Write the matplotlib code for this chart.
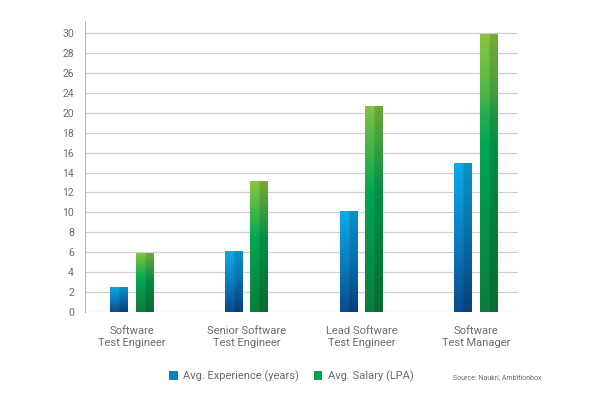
import matplotlib
matplotlib.use("Agg")
import matplotlib.pyplot as plt
import numpy as np
from matplotlib.patches import Patch

plt.rcParams["font.family"] = ["Roboto", "DejaVu Sans"]

# --- data -------------------------------------------------------------------
ROLES = ["Software\nTest Engineer", "Senior Software\nTest Engineer",
         "Lead Software\nTest Engineer", "Software\nTest Manager"]
EXPERIENCE = [2.6, 6.2, 10.2, 15.0]    # Avg. Experience (years)
SALARY = [6.0, 13.2, 21.6, 30.0]       # Avg. Salary (LPA)
# the original axis labels are evenly spaced but skip 22
Y_LABELS = [0, 2, 4, 6, 8, 10, 12, 14, 16, 18, 20, 24, 26, 28, 30]

TEXT = "#6b6b6b"
GRID = "#d0d0d0"


def label_scale():
    """Map values onto evenly spaced label slots (piecewise linear)."""
    knots = np.array([-60.0] + Y_LABELS + [90.0])
    slots = np.array([-30.0] + list(range(len(Y_LABELS))) + [len(Y_LABELS) - 1 + 30.0])

    def fwd(v):
        return np.interp(v, knots, slots)

    def inv(s):
        return np.interp(s, slots, knots)

    return fwd, inv


def gradient(stops, n=256, cols=20, shade=0.86):
    """Vertical gradient image (top row first), right half slightly darker."""
    pos = np.linspace(0, 1, n)
    sp = [s[0] for s in stops]
    rgb = [matplotlib.colors.to_rgb(s[1]) for s in stops]
    col = np.stack([np.interp(pos, sp, [c[k] for c in rgb]) for k in range(3)], axis=1)
    img = np.repeat(col[:, None, :], cols, axis=1)
    img[:, cols // 2:, :] *= shade
    return img


BLUE_STOPS = [(0.0, "#0aabe8"), (0.5, "#0a7fc2"), (1.0, "#0a4a8e")]
GREEN_STOPS = [(0.0, "#8dc63f"), (0.45, "#00a651"), (1.0, "#0b7d3c")]

fig = plt.figure(figsize=(6.0, 4.04), dpi=100)
ax = fig.add_axes([0.1417, 0.2285, 0.7217, 0.7195])
fwd, inv = label_scale()
ax.set_yscale("function", functions=(fwd, inv))

x = np.arange(len(ROLES))
w = 0.157
off = 0.111
for vals, dx, stops in [(EXPERIENCE, -off, BLUE_STOPS), (SALARY, off, GREEN_STOPS)]:
    bars = ax.bar(x + dx, vals, width=w, color="none", zorder=3)
    img = gradient(stops)
    for b in bars:
        x0, h = b.get_x(), b.get_height()
        im = ax.imshow(img, extent=(x0, x0 + b.get_width(), 0, h), origin="upper",
                       aspect="auto", interpolation="bilinear", zorder=3)
        im.set_clip_path(b)

ax.set_xlim(-0.41, 3.365)
ax.set_ylim(0, 31.24)
ax.set_yticks(Y_LABELS)
ax.set_yticklabels([str(v) for v in Y_LABELS])
ax.set_xticks(x)
ax.set_xticklabels(ROLES, linespacing=1.3)
ax.tick_params(axis="y", length=0, pad=8, labelsize=7.5, labelcolor=TEXT)
ax.tick_params(axis="x", length=0, pad=10, labelsize=8, labelcolor=TEXT)
ax.minorticks_off()
ax.yaxis.grid(True, color=GRID, linewidth=0.9)
ax.set_axisbelow(True)
for s in ("top", "right", "bottom"):
    ax.spines[s].set_visible(False)
ax.spines["left"].set_color("#b5b5b5")
ax.spines["left"].set_linewidth(0.8)

handles = [Patch(facecolor="#0a7fc2", label="Avg. Experience (years)"),
           Patch(facecolor="#00a651", label="Avg. Salary (LPA)")]
fig.legend(handles=handles, loc="center left", bbox_to_anchor=(0.275, 0.069), ncol=2,
           frameon=False, fontsize=8, labelcolor=TEXT, handlelength=0.75,
           handleheight=0.75, handletextpad=0.5, columnspacing=1.3, borderaxespad=0)
fig.text(0.755, 0.066, "Source: Naukri, Ambitionbox", fontsize=5, color=TEXT,
         ha="left", va="center")

fig.savefig("out.png", dpi=100)
